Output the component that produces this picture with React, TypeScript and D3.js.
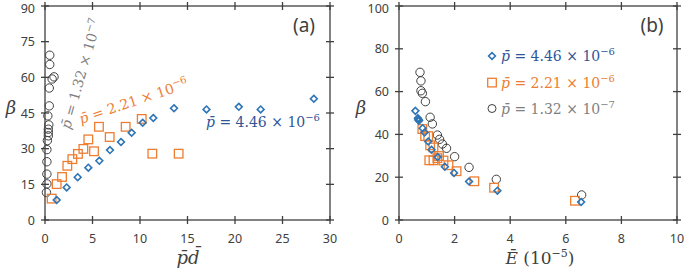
import React from "react";
import * as d3 from "d3";

// ---------- data ----------
const bluePd = [1.23, 2.28, 3.44, 4.56, 5.72, 6.84, 8.0, 9.12, 10.28, 11.4, 13.58, 17.0, 20.4, 22.7, 28.3];
const blueBeta = [8.4, 13.7, 18.0, 22.0, 24.9, 29.4, 32.8, 36.7, 40.9, 42.9, 47.0, 46.5, 47.6, 46.5, 51.0];
const blueE = [6.55, 3.54, 2.52, 1.98, 1.65, 1.39, 1.17, 1.05, 0.92, 0.85, 0.7, 0.72, 0.68, 0.71, 0.59];

const orangePd = [0.7, 1.23, 1.79, 2.35, 2.88, 3.47, 4.04, 4.56, 5.16, 5.68, 6.81, 8.49, 10.18, 11.3, 14.07];
const orangeBeta = [9.0, 15.1, 18.1, 22.8, 25.6, 27.8, 29.9, 33.9, 28.9, 39.2, 34.9, 39.2, 42.5, 27.9, 27.9];
const orangeE = [6.33, 3.42, 2.71, 2.07, 1.78, 1.6, 1.44, 1.24, 1.38, 0.94, 1.12, 1.05, 0.84, 1.09, 1.24];

const grayPd = [0.15, 0.2, 0.2, 0.2, 0.2, 0.25, 0.35, 0.35, 0.35, 0.4, 0.3, 0.45, 0.45, 0.75, 0.95, 0.5, 0.5];
const grayBetaA = [11.6, 15.2, 19.3, 24.5, 29.6, 33.4, 35.4, 36.8, 38.2, 40.0, 43.8, 48.0, 55.5, 59.3, 60.2, 65.4, 69.3];
const grayE = [6.57, 3.5, 2.52, 2.0, 1.71, 1.56, 1.46, 1.38, 1.2, 1.12, 0.95, 0.84, 0.79, 0.79, 0.755];
const grayBetaB = [11.7, 19.0, 24.6, 29.6, 33.5, 35.5, 37.7, 39.7, 44.9, 48.0, 55.3, 59.2, 60.4, 65.0, 69.0];

const ticksAX = [0, 5, 10, 15, 20, 25, 30];
const ticksAY = [0, 15, 30, 45, 60, 75, 90];
const ticksBX = [0, 2, 4, 6, 8, 10];
const ticksBY = [0, 20, 40, 60, 80, 100];

const legendValues = ["4.46", "2.21", "1.32"];
const legendExps = ["6", "6", "7"];

// ---------- styles ----------
const AXIS = "#404040";
const BLUE = "#2E75B6";
const BLUE_TEXT = "#2F5597";
const ORANGE = "#ED7D31";
const GRAY_TEXT = "#7F7F7F";
const CIRCLE = "#404040";
const MATH_FONT = "DejaVu Serif";
const TICK_FONT = "Noto Sans";

type Scale = d3.ScaleLinear<number, number>;

const Frame = ({ x, y, xt, yt }: { x: Scale; y: Scale; xt: number[]; yt: number[] }) => {
  const [x0, x1] = x.range();
  const [y0, y1] = y.range();
  const t = 4;
  return (
    <g stroke={AXIS} strokeWidth={1.3} fill="none">
      <rect x={x0} y={y1} width={x1 - x0} height={y0 - y1} />
      {xt.map((v) => (
        <g key={"x" + v}>
          <line x1={x(v)} x2={x(v)} y1={y0 - t} y2={y0 + t} />
          <line x1={x(v)} x2={x(v)} y1={y1 - t} y2={y1 + t} />
        </g>
      ))}
      {yt.map((v) => (
        <g key={"y" + v}>
          <line x1={x0 - t} x2={x0 + t} y1={y(v)} y2={y(v)} />
          <line x1={x1 - t} x2={x1 + t} y1={y(v)} y2={y(v)} />
        </g>
      ))}
      <g stroke="none" fill={AXIS} fontFamily={TICK_FONT} fontSize={12.5}>
        {xt.map((v) => (
          <text key={"xl" + v} x={x(v)} y={y0 + 23} textAnchor="middle">
            {v}
          </text>
        ))}
        {yt.map((v) => (
          <text key={"yl" + v} x={x0 - 10} y={Math.max(y(v) + 4.5, 13)} textAnchor="end">
            {v}
          </text>
        ))}
      </g>
    </g>
  );
};

const PLabel = ({ value, exp, ...rest }: any) => (
  <text fontFamily={MATH_FONT} fontSize={14} {...rest}>
    <tspan fontStyle="italic">p̄</tspan>
    {" = " + value + " × 10"}
    <tspan dy={-6} fontSize={10}>
      {"−" + exp}
    </tspan>
  </text>
);

const diamond = (cx: number, cy: number, r: number) =>
  `M${cx},${cy - r}L${cx + r},${cy}L${cx},${cy + r}L${cx - r},${cy}Z`;

const Markers = ({ x, y, xs, ys, kind }: { x: Scale; y: Scale; xs: number[]; ys: number[]; kind: string }) => (
  <g fill="none">
    {xs.map((v, i) => {
      const cx = x(v);
      const cy = y(ys[i]);
      if (kind === "diamond")
        return <path key={i} d={diamond(cx, cy, 3.4)} stroke={BLUE} strokeWidth={1.6} />;
      if (kind === "square")
        return (
          <rect key={i} x={cx - 4.3} y={cy - 4.3} width={8.6} height={8.6} stroke={ORANGE} strokeWidth={1.3} />
        );
      return <circle key={i} cx={cx} cy={cy} r={4.2} stroke={CIRCLE} strokeWidth={1} />;
    })}
  </g>
);

export default function App() {
  const xA = d3.scaleLinear().domain([0, 30]).range([45, 330]);
  const yA = d3.scaleLinear().domain([0, 90]).range([220, 6]);
  const xB = d3.scaleLinear().domain([0, 10]).range([399, 677]);
  const yB = d3.scaleLinear().domain([0, 100]).range([220, 6]);

  const legendColors = [BLUE_TEXT, ORANGE, GRAY_TEXT];
  const legendKinds = ["diamond", "square", "circle"];

  return (
    <svg
      width={685}
      height={272}
      style={{ position: "absolute", left: 0, top: 0, background: "#fff" }}
    >
      {/* Panel (a) */}
      <Frame x={xA} y={yA} xt={ticksAX} yt={ticksAY} />
      <Markers x={xA} y={yA} xs={grayPd} ys={grayBetaA} kind="circle" />
      <Markers x={xA} y={yA} xs={orangePd} ys={orangeBeta} kind="square" />
      <Markers x={xA} y={yA} xs={bluePd} ys={blueBeta} kind="diamond" />
      <PLabel value={legendValues[2]} exp={legendExps[2]} fill={GRAY_TEXT} transform="translate(70,130) rotate(-74)" />
      <PLabel value={legendValues[1]} exp={legendExps[1]} fill={ORANGE} transform="translate(81,124) rotate(-18.5)" />
      <PLabel value={legendValues[0]} exp={legendExps[0]} fill={BLUE_TEXT} x={206} y={127} />
      <text x={304} y={32} textAnchor="middle" fontFamily={TICK_FONT} fontSize={19} fill={AXIS}>
        (a)
      </text>
      <text x={11} y={114} textAnchor="middle" fontFamily={MATH_FONT} fontStyle="italic" fontSize={18} fill={AXIS}>
        β
      </text>
      <text x={188} y={264} textAnchor="middle" fontFamily={MATH_FONT} fontStyle="italic" fontSize={18} fill={AXIS}>
        p̄d̄
      </text>

      {/* Panel (b) */}
      <Frame x={xB} y={yB} xt={ticksBX} yt={ticksBY} />
      <Markers x={xB} y={yB} xs={grayE} ys={grayBetaB} kind="circle" />
      <Markers x={xB} y={yB} xs={orangeE} ys={orangeBeta} kind="square" />
      <Markers x={xB} y={yB} xs={blueE} ys={blueBeta} kind="diamond" />
      {legendValues.map((v, i) => (
        <g key={v}>
          {legendKinds[i] === "diamond" && <path d={diamond(492, 56, 3.4)} fill="none" stroke={BLUE} strokeWidth={1.6} />}
          {legendKinds[i] === "square" && (
            <rect x={487.7} y={78.3} width={8.6} height={8.6} fill="none" stroke={ORANGE} strokeWidth={1.3} />
          )}
          {legendKinds[i] === "circle" && <circle cx={492} cy={108.5} r={4} fill="none" stroke={CIRCLE} strokeWidth={1} />}
          <PLabel value={v} exp={legendExps[i]} fill={legendColors[i]} x={501} y={61 + i * 26.5} />
        </g>
      ))}
      <text x={652} y={32} textAnchor="middle" fontFamily={TICK_FONT} fontSize={19} fill={AXIS}>
        (b)
      </text>
      <text x={361} y={114} textAnchor="middle" fontFamily={MATH_FONT} fontStyle="italic" fontSize={18} fill={AXIS}>
        β
      </text>
      <text x={540} y={264} textAnchor="middle" fontFamily={MATH_FONT} fontSize={17} fill={AXIS}>
        <tspan fontStyle="italic">Ē</tspan>
        {" (10"}
        <tspan dy={-7} fontSize={11}>
          −5
        </tspan>
        <tspan dy={7}>)</tspan>
      </text>
    </svg>
  );
}
